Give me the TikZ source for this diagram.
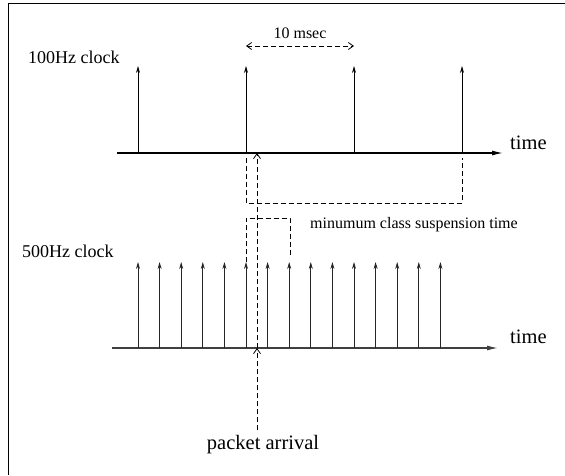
\documentclass[tikz,border=0pt]{standalone}
\usepackage{fontspec}
\setmainfont{Liberation Serif}
\usetikzlibrary{arrows.meta}
\tikzset{
  tick/.style={-{Stealth[length=7pt,width=4pt]}, line width=0.8pt},
  axis/.style={-{Latex[length=11pt,width=5pt]}, line width=1.2pt},
  dashline/.style={dash pattern=on 5pt off 3pt, line width=0.8pt},
  dasharrow/.style={dashline, -{Straight Barb[length=5pt,width=7pt]}},
  biglabel/.style={font=\fontsize{20.5}{24}\selectfont, inner sep=0pt},
  clocklabel/.style={font=\fontsize{18}{22}\selectfont, inner sep=0pt},
  smalllabel/.style={font=\fontsize{16}{19}\selectfont, inner sep=0pt}
}
\begin{document}
\begin{tikzpicture}[x=1pt, y=-1pt]
  \useasboundingbox (0,0) rectangle (565,475);
  % frame
  \draw[line width=1pt] (8,475) -- (8,3) -- (565,3);
  % 100Hz clock
  \draw
    (28,57) node[clocklabel, anchor=west] (lbl100){100Hz clock}
    (510,143) node[biglabel, anchor=west] (time1){time};
  \coordinate (a1s) at (117,153);
  \coordinate (a1e) at (503,153);
  \draw[axis] (a1s) -- (a1e);
  \foreach \i/\x in {0/138, 1/246, 2/354, 3/462} {
    \coordinate (t\i) at (\x,153);
    \coordinate (h\i) at (\x,66);
    \draw[tick] (t\i) -- (h\i);
  }
  % 10 msec
  \coordinate (p1) at (246,46);
  \coordinate (p2) at (354,46);
  \draw[dasharrow, {Straight Barb[length=5pt,width=7pt]}-{Straight Barb[length=5pt,width=7pt]}] (p1) -- (p2);
  \node[smalllabel] (msec) at (300,33) {10 msec};
  % 500Hz clock
  \draw
    (22,251) node[clocklabel, anchor=west] (lbl500){500Hz clock}
    (510,337) node[biglabel, anchor=west] (time2){time};
  \coordinate (a2s) at (112,348);
  \coordinate (a2e) at (498,348);
  \draw[axis, black!75] (a2s) -- (a2e);
  \foreach \k in {0,...,14} {
    \coordinate (s\k) at (138+21.6*\k,348);
    \coordinate (u\k) at (138+21.6*\k,262);
    \draw[tick, black!85] (s\k) -- (u\k);
  }
  % suspension times
  \begin{scope}[dashline]
    \draw (246,158) -- (246,203) -- (462,203) -- (462,158);
    \draw (246,262) -- (246,218) -- (290,218) -- (290,256);
  \end{scope}
  \node[smalllabel, anchor=west] (susp) at (310,225) {minumum class suspension time};
  % packet arrival
  \node[biglabel] (pkt) at (263,445) {packet arrival};
  \coordinate (q0) at (257,430);
  \coordinate (q1) at (257,348);
  \coordinate (q2) at (257,153);
  \draw[dasharrow] (q0) -- (q1);
  \draw[dasharrow] (q1) -- (q2);
\end{tikzpicture}
\end{document}
